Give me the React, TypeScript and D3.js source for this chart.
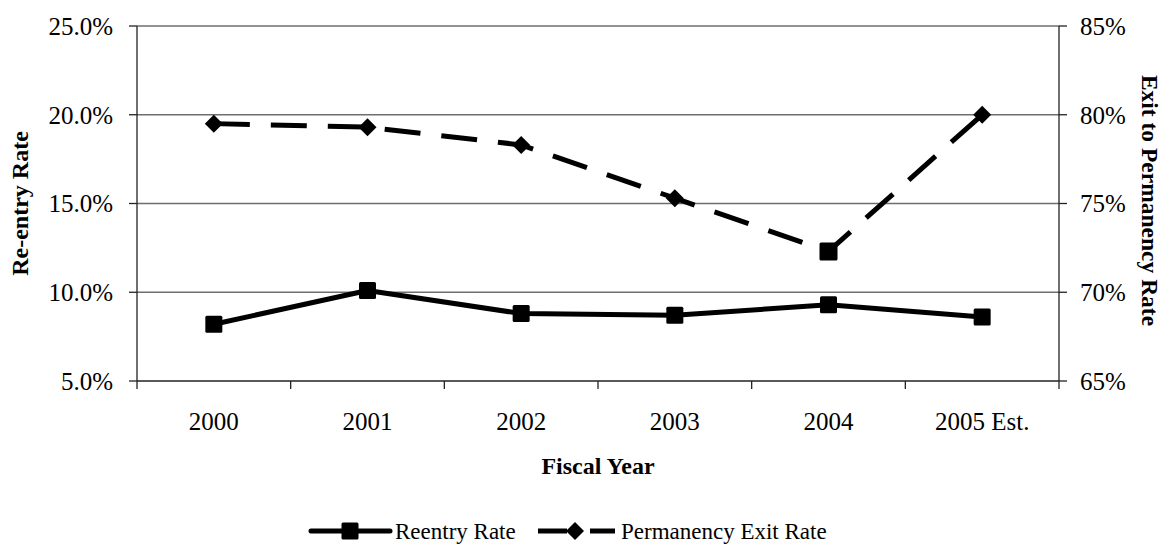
import React from "react";
import * as d3 from "d3";

const years = ["2000", "2001", "2002", "2003", "2004", "2005 Est."];
const reentryRate = [8.2, 10.1, 8.8, 8.7, 9.3, 8.6];
const exitRate = [79.5, 79.3, 78.3, 75.3, 72.3, 80.0];
const leftTicks = [5, 10, 15, 20, 25];
const rightTicks = [65, 70, 75, 80, 85];

const W = 1162;
const H = 546;
const M = { left: 137, right: 1059, top: 26, bottom: 381 };
const FONT = "'Liberation Serif', 'Times New Roman', serif";

export default function App() {
  const x = d3.scaleBand<string>().domain(years).range([M.left, M.right]);
  const yL = d3.scaleLinear().domain([5, 25]).range([M.bottom, M.top]);
  const yR = d3.scaleLinear().domain([65, 85]).range([M.bottom, M.top]);
  const cx = (d: string) => (x(d) ?? 0) + x.bandwidth() / 2;

  const reentryLine = d3
    .line<number>()
    .x((_, i) => cx(years[i]))
    .y((v) => yL(v));
  const exitLine = d3
    .line<number>()
    .x((_, i) => cx(years[i]))
    .y((v) => yR(v));

  const boundaries = years.map((d) => x(d) ?? 0).concat([M.right]);
  const sq = 17;
  const dm = 9;
  const diamond = (px: number, py: number, r: number) =>
    `M${px},${py - r}L${px + r},${py}L${px},${py + r}L${px - r},${py}Z`;

  const legendY = 531;

  return (
    <svg
      width={W}
      height={H}
      style={{ position: "absolute", left: 0, top: 0, background: "#fff" }}
      fontFamily={FONT}
    >
      {/* horizontal gridlines */}
      {leftTicks.slice(1).map((t) => (
        <line key={t} x1={M.left} x2={M.right} y1={yL(t)} y2={yL(t)} stroke="#6e6e6e" strokeWidth={1.3} />
      ))}
      {/* axis frame */}
      <line x1={M.left} x2={M.left} y1={M.top} y2={M.bottom} stroke="#222" strokeWidth={1.3} />
      <line x1={M.right} x2={M.right} y1={M.top} y2={M.bottom} stroke="#222" strokeWidth={1.3} />
      <line x1={M.left} x2={M.right} y1={M.bottom} y2={M.bottom} stroke="#222" strokeWidth={1.3} />
      {/* left ticks */}
      {leftTicks.map((t) => (
        <g key={"l" + t}>
          <line x1={M.left - 8} x2={M.left} y1={yL(t)} y2={yL(t)} stroke="#222" strokeWidth={1.3} />
          <text x={M.left - 24} y={yL(t)} dy="0.35em" textAnchor="end" fontSize={25}>
            {t.toFixed(1)}%
          </text>
        </g>
      ))}
      {/* right ticks */}
      {rightTicks.map((t) => (
        <g key={"r" + t}>
          <line x1={M.right} x2={M.right + 8} y1={yR(t)} y2={yR(t)} stroke="#222" strokeWidth={1.3} />
          <text x={M.right + 21} y={yR(t)} dy="0.35em" textAnchor="start" fontSize={25}>
            {t}%
          </text>
        </g>
      ))}
      {/* x ticks */}
      {boundaries.map((b, i) => (
        <line key={"x" + i} x1={b} x2={b} y1={M.bottom} y2={M.bottom + 8} stroke="#222" strokeWidth={1.3} />
      ))}
      {years.map((d) => (
        <text key={d} x={cx(d)} y={430} textAnchor="middle" fontSize={25}>
          {d}
        </text>
      ))}

      {/* axis titles */}
      <text x={598} y={474} textAnchor="middle" fontSize={24} fontWeight="bold">
        Fiscal Year
      </text>
      <text
        transform={`translate(28,${(M.top + M.bottom) / 2}) rotate(-90)`}
        textAnchor="middle"
        fontSize={24}
        fontWeight="bold"
      >
        Re-entry Rate
      </text>
      <text
        transform={`translate(1142,${(M.top + M.bottom) / 2 - 3}) rotate(90)`}
        textAnchor="middle"
        fontSize={23.5}
        fontWeight="bold"
      >
        Exit to Permanency Rate
      </text>

      {/* permanency exit rate (dashed, right axis) */}
      <path
        d={exitLine(exitRate) ?? ""}
        fill="none"
        stroke="#000"
        strokeWidth={5}
        strokeDasharray="36,21"
      />
      {exitRate.map((v, i) =>
        years[i] === "2004" ? (
          <rect key={"e" + i} x={cx(years[i]) - 9} y={yR(v) - 9} width={18} height={18} rx={1.5} fill="#000" />
        ) : (
          <path key={"e" + i} d={diamond(cx(years[i]), yR(v), dm)} fill="#000" />
        )
      )}

      {/* reentry rate (solid, left axis) */}
      <path d={reentryLine(reentryRate) ?? ""} fill="none" stroke="#000" strokeWidth={5} strokeLinejoin="round" />
      {reentryRate.map((v, i) => (
        <rect
          key={"r" + i}
          x={cx(years[i]) - sq / 2}
          y={yL(v) - sq / 2}
          width={sq}
          height={sq}
          rx={1.5}
          fill="#000"
        />
      ))}

      {/* legend */}
      <g>
        <line x1={311} x2={390} y1={legendY} y2={legendY} stroke="#000" strokeWidth={5} strokeLinecap="round" />
        <rect x={350 - sq / 2} y={legendY - sq / 2} width={sq} height={sq} rx={1.5} fill="#000" />
        <text x={395} y={legendY + 8} fontSize={23}>
          Reentry Rate
        </text>
        <line x1={538} x2={567} y1={legendY} y2={legendY} stroke="#000" strokeWidth={5} />
        <path d={diamond(575, legendY, dm)} fill="#000" />
        <line x1={590} x2={615} y1={legendY} y2={legendY} stroke="#000" strokeWidth={5} />
        <text x={621} y={legendY + 8} fontSize={23}>
          Permanency Exit Rate
        </text>
      </g>
    </svg>
  );
}
